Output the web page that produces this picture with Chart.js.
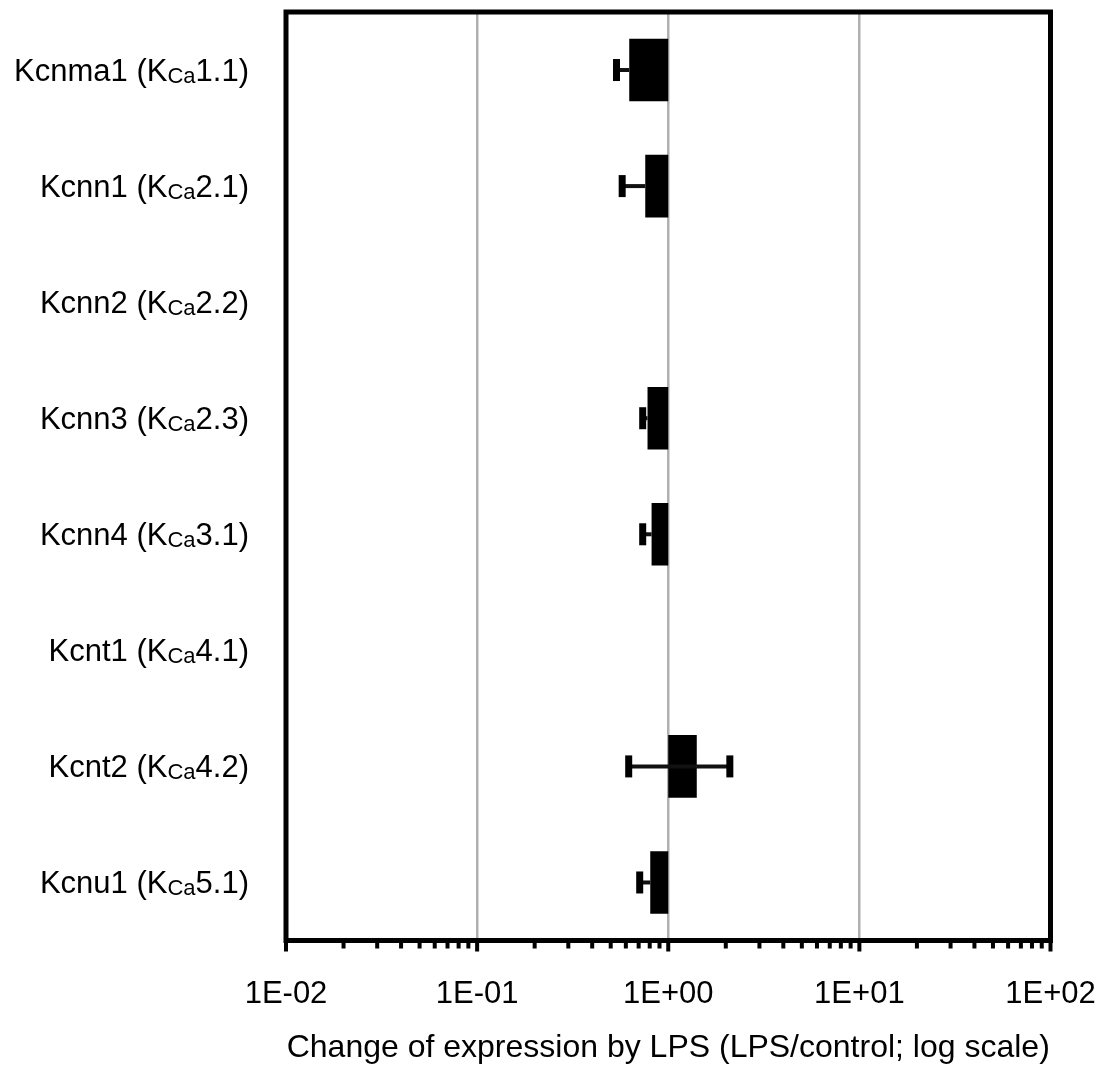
<!DOCTYPE html>
<html>
<head>
<meta charset="utf-8">
<script src="https://cdn.jsdelivr.net/npm/chart.js@4.4.1/dist/chart.umd.min.js"></script>
<style>
  html, body { margin: 0; padding: 0; background: #fff; }
  #wrap { width: 1110px; height: 1068px; }
</style>
</head>
<body>
<div id="wrap"><canvas id="c" width="1110" height="1068"></canvas></div>
<script>
// Calcium-activated K+ channel genes and their KCa subtype numbers
const genes = ['Kcnma1', 'Kcnn1', 'Kcnn2', 'Kcnn3', 'Kcnn4', 'Kcnt1', 'Kcnt2', 'Kcnu1'];
const subtypes = ['1.1', '2.1', '2.2', '2.3', '3.1', '4.1', '4.2', '5.1'];

// LPS / control expression ratio (null = not detected)
const lpsRatio = [0.625, 0.758, null, 0.779, 0.818, null, 1.41, 0.805];
// Error bar ends (lower / upper); upper ends of the reduced genes sit inside the bars
const errLower = [0.536, 0.574, null, 0.735, 0.735, null, 0.621, 0.709];
const errUpper = [null, null, null, null, null, null, 2.10, null];

const decadeTicks = [0.01, 0.1, 1, 10, 100];
const decadeLabels = ['1E-02', '1E-01', '1E+00', '1E+01', '1E+02'];
const axisTitle = 'Change of expression by LPS (LPS/control; log scale)';

const FONT = '"Liberation Sans", Arial, Helvetica, sans-serif';

function decadeIndex(v) {
  return decadeTicks.findIndex(t => Math.abs(t - v) / t < 1e-6);
}

// Error bars: a line from the bar end to each bound, closed by a solid cap
const errorBars = {
  id: 'errorBars',
  afterDatasetsDraw(chart) {
    const { ctx, scales: { x, y } } = chart;
    ctx.save();
    ctx.strokeStyle = '#111';
    ctx.fillStyle = '#000';
    ctx.lineWidth = 4;
    lpsRatio.forEach((v, i) => {
      if (v == null) return;
      const yc = y.getPixelForValue(i);
      const xv = x.getPixelForValue(v);
      [errLower[i], errUpper[i]].forEach(b => {
        if (b == null) return;
        const xb = x.getPixelForValue(b);
        ctx.beginPath();
        ctx.moveTo(xv, yc);
        ctx.lineTo(xb, yc);
        ctx.stroke();
        ctx.fillRect(xb - 3.5, yc - 11, 7, 22);
      });
    });
    ctx.restore();
  }
};

// Heavy plot frame plus major/minor log tick marks under the x axis
const frameAndTicks = {
  id: 'frameAndTicks',
  afterDraw(chart) {
    const { ctx, chartArea: a, scales: { x } } = chart;
    ctx.save();
    ctx.fillStyle = '#000';
    for (let d = -2; d <= 2; d++) {
      for (let m = 1; m <= 9; m++) {
        if (d === 2 && m > 1) break;
        const xv = x.getPixelForValue(m * Math.pow(10, d));
        const len = m === 1 ? 11 : 8;
        ctx.fillRect(xv - 2, a.bottom, 4, len);
      }
    }
    ctx.lineWidth = 5;
    ctx.strokeStyle = '#000';
    ctx.strokeRect(a.left, a.top, a.right - a.left, a.bottom - a.top);
    ctx.restore();
  }
};

// Gene labels with the subscripted "Ca" of the KCa channel name
const geneLabels = {
  id: 'geneLabels',
  afterDraw(chart) {
    const { ctx, scales: { y } } = chart;
    ctx.save();
    ctx.fillStyle = '#000';
    ctx.textBaseline = 'alphabetic';
    ctx.textAlign = 'left';
    genes.forEach((g, i) => {
      const yc = y.getPixelForValue(i);
      const base = yc + 11;
      const p1 = g + ' (K', p2 = 'Ca', p3 = subtypes[i] + ')';
      ctx.font = '31px ' + FONT;
      const w1 = ctx.measureText(p1).width;
      const w3 = ctx.measureText(p3).width;
      ctx.font = '22px ' + FONT;
      const w2 = ctx.measureText(p2).width;
      let xs = 249 - (w1 + w2 + w3);
      ctx.font = '31px ' + FONT;
      ctx.fillText(p1, xs, base);
      xs += w1;
      ctx.font = '22px ' + FONT;
      ctx.fillText(p2, xs, base + 1.5);
      xs += w2;
      ctx.font = '31px ' + FONT;
      ctx.fillText(p3, xs, base);
    });
    ctx.restore();
  }
};

new Chart(document.getElementById('c'), {
  type: 'bar',
  data: {
    labels: genes,
    datasets: [{
      data: lpsRatio.map(v => (v == null ? null : [1, v])),
      backgroundColor: '#000',
      borderWidth: 0,
      barPercentage: 0.54,
      categoryPercentage: 1
    }]
  },
  options: {
    indexAxis: 'y',
    responsive: false,
    animation: false,
    devicePixelRatio: 1,
    layout: { padding: { left: 286, right: 59.5, top: 12, bottom: 0 } },
    plugins: { legend: { display: false }, tooltip: { enabled: false } },
    scales: {
      y: { display: false, offset: true },
      x: {
        type: 'logarithmic',
        position: 'bottom',
        min: 0.01,
        max: 100,
        afterFit(s) {
          s.height = 127.5;
          s.paddingLeft = 0;
          s.paddingRight = 0;
        },
        border: { display: false },
        grid: {
          drawTicks: false,
          lineWidth: 2.5,
          color: c => (c.tick && decadeIndex(c.tick.value) >= 0 ? '#b0b0b0' : 'rgba(0,0,0,0)')
        },
        ticks: {
          autoSkip: false,
          maxRotation: 0,
          padding: 35,
          color: '#000',
          font: { family: FONT, size: 31 },
          callback: v => {
            const k = decadeIndex(v);
            return k >= 0 ? decadeLabels[k] : '';
          }
        },
        title: {
          display: true,
          text: axisTitle,
          color: '#000',
          font: { family: FONT, size: 32 },
          padding: { top: 0, bottom: 1 }
        }
      }
    }
  },
  plugins: [errorBars, frameAndTicks, geneLabels]
});
</script>
</body>
</html>
